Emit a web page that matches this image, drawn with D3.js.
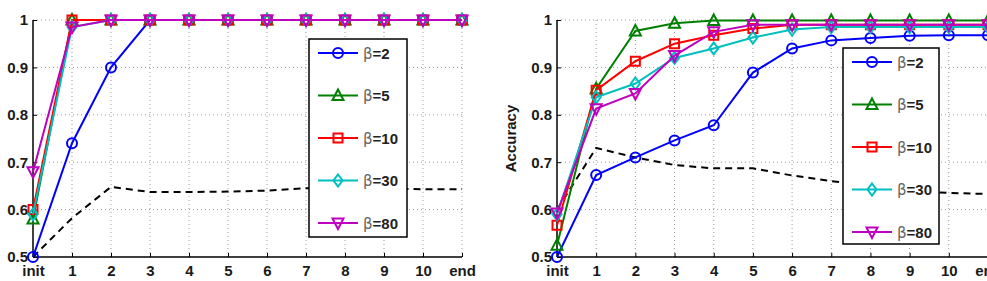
<!DOCTYPE html>
<html><head><meta charset="utf-8">
<script src="https://cdn.jsdelivr.net/npm/d3@7"></script>
<style>body{margin:0;background:#fff}svg{display:block}text{font-family:"Liberation Sans",Arial,sans-serif}</style>
</head><body>
<script>
const categories = ["init","1","2","3","4","5","6","7","8","9","10","end"];
const yTicks = [0.5,0.6,0.7,0.8,0.9,1];
const seriesNames = ["β=2","β=5","β=10","β=30","β=80"];
const seriesColors = ["#0000ff","#008000","#ff0000","#00bfbf","#bf00bf"];
const seriesMarkers = ["circle","triangle","square","diamond","down"];

// Left panel
const leftB2  = [0.50,0.74,0.90,1,1,1,1,1,1,1,1,1];
const leftB5  = [0.58,1,1,1,1,1,1,1,1,1,1,1];
const leftB10 = [0.60,1,1,1,1,1,1,1,1,1,1,1];
const leftB30 = [0.59,0.985,1,1,1,1,1,1,1,1,1,1];
const leftB80 = [0.68,0.985,1,1,1,1,1,1,1,1,1,1];
const leftBase = [0.50,0.582,0.648,0.637,0.637,0.638,0.64,0.645,0.645,0.644,0.643,0.643];

// Right panel
const rightB2  = [0.50,0.673,0.71,0.746,0.778,0.889,0.94,0.957,0.962,0.967,0.968,0.968];
const rightB5  = [0.525,0.855,0.977,0.993,0.999,0.999,0.999,0.999,0.999,0.999,0.999,0.999];
const rightB10 = [0.567,0.852,0.913,0.95,0.968,0.982,0.99,0.99,0.99,0.99,0.99,0.99];
const rightB30 = [0.59,0.837,0.866,0.92,0.94,0.963,0.98,0.985,0.985,0.985,0.985,0.985];
const rightB80 = [0.593,0.813,0.845,0.925,0.975,0.99,0.99,0.99,0.99,0.99,0.99,0.99];
const rightBase = [0.60,0.73,0.71,0.694,0.687,0.687,0.672,0.66,0.65,0.64,0.635,0.633];

const W=987,H=281;
const svg=d3.select("body").append("svg").attr("width",W).attr("height",H);

const y=d3.scaleLinear().domain([0.5,1]).range([257,20]);

function marker(g,type,cx,cy,color){
  const s=5;
  let el;
  if(type==="circle") el=g.append("circle").attr("cx",cx).attr("cy",cy).attr("r",s);
  else {
    let pts;
    if(type==="triangle") pts=[[cx,cy-s-1],[cx+s+0.5,cy+s-0.5],[cx-s-0.5,cy+s-0.5]];
    else if(type==="down") pts=[[cx,cy+s+1],[cx+s+0.5,cy-s+0.5],[cx-s-0.5,cy-s+0.5]];
    else if(type==="square") pts=[[cx-4.5,cy-4.5],[cx+4.5,cy-4.5],[cx+4.5,cy+4.5],[cx-4.5,cy+4.5]];
    else pts=[[cx,cy-6],[cx+4.5,cy],[cx,cy+6],[cx-4.5,cy]];
    el=g.append("polygon").attr("points",pts.map(p=>p.join(",")).join(" "));
  }
  el.attr("fill","none").attr("stroke",color).attr("stroke-width",2);
}

function panel(x0,x1,series,base,legend,labelX){
  const x=d3.scalePoint().domain(categories).range([x0,x1]);
  const g=svg.append("g");
  // grid
  g.selectAll(".gx").data(categories.slice(1)).enter().append("line")
    .attr("x1",d=>x(d)).attr("x2",d=>x(d)).attr("y1",y(1)).attr("y2",y(0.5))
    .attr("stroke","#9a9a9a").attr("stroke-width",1).attr("stroke-dasharray","1,3");
  g.selectAll(".gy").data(yTicks.slice(1)).enter().append("line")
    .attr("x1",x0).attr("x2",x1).attr("y1",d=>y(d)).attr("y2",d=>y(d))
    .attr("stroke","#9a9a9a").attr("stroke-width",1).attr("stroke-dasharray","1,3");
  // axes
  const ax=g.append("g").attr("transform",`translate(0,${y(0.5)})`)
    .call(d3.axisBottom(x).tickSize(-4).tickPadding(8));
  ax.select(".domain").attr("stroke","#000").attr("stroke-width",1.5).attr("d",`M${x0},0H${x1}`);
  ax.selectAll("text").attr("font-size",15).attr("font-weight","bold").attr("fill","#1a1a1a");
  const ay=g.append("g").attr("transform",`translate(${x0},0)`)
    .call(d3.axisLeft(y).tickValues(yTicks).tickFormat(d=>d===1?"1":d3.format(".1f")(d)).tickSize(-4).tickPadding(5));
  ay.select(".domain").attr("stroke","#000").attr("stroke-width",1.5).attr("d",`M0,${y(0.5)}V${y(1)}`);
  ay.selectAll("text").attr("font-size",15).attr("font-weight","bold").attr("fill","#1a1a1a");
  g.append("text").attr("transform",`translate(${labelX},${(y(0.5)+y(1))/2}) rotate(-90)`)
    .attr("text-anchor","middle").attr("font-size",15).attr("font-weight","bold").attr("fill","#1a1a1a").text("Accuracy");
  // baseline dashed
  const line=d3.line().x((d,i)=>x(categories[i])).y(d=>y(d));
  g.append("path").attr("d",line(base)).attr("fill","none").attr("stroke","#000")
    .attr("stroke-width",2).attr("stroke-dasharray","7,5");
  series.forEach((s,k)=>{
    g.append("path").attr("d",line(s)).attr("fill","none").attr("stroke",seriesColors[k]).attr("stroke-width",2);
    s.forEach((v,i)=>marker(g,seriesMarkers[k],x(categories[i]),y(v),seriesColors[k]));
  });
  // legend
  const L=g.append("g");
  L.append("rect").attr("x",legend.x).attr("y",legend.y).attr("width",legend.w).attr("height",legend.h)
    .attr("fill","#fff").attr("stroke","#000").attr("stroke-width",1.5);
  seriesNames.forEach((n,k)=>{
    const cy=legend.y+14+k*42.5;
    const lx=legend.x+9;
    L.append("line").attr("x1",lx).attr("x2",lx+40).attr("y1",cy).attr("y2",cy)
      .attr("stroke",seriesColors[k]).attr("stroke-width",2);
    marker(L,seriesMarkers[k],lx+20,cy,seriesColors[k]);
    const t=L.append("text").attr("x",lx+45).attr("y",cy+5.5).attr("font-size",15).attr("fill","#222");
    t.append("tspan").attr("font-family","DejaVu Sans, sans-serif").attr("fill","#666").text(n.slice(0,1));
    t.append("tspan").attr("font-weight","bold").text(n.slice(1));
  });
}

panel(33,462,[leftB2,leftB5,leftB10,leftB30,leftB80],leftBase,{x:309,y:39,w:98,h:198},-8);
panel(557,988,[rightB2,rightB5,rightB10,rightB30,rightB80],rightBase,{x:843,y:48,w:96,h:196},516);
</script>
</body></html>
